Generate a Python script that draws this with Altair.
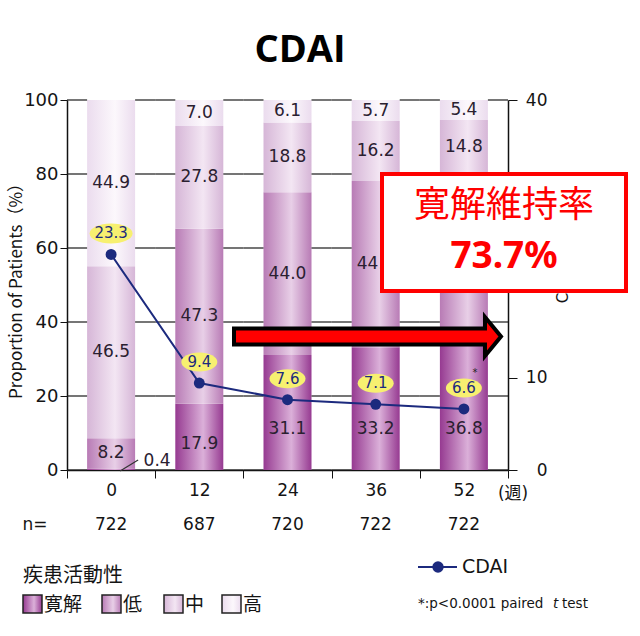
import altair as alt
import pandas as pd

# ---------------- data ----------------
weeks = ["0", "12", "24", "36", "52"]
categories = ["寛解", "低", "中", "高"]
remission = [0.4, 17.9, 31.1, 33.2, 36.8]
low = [8.2, 47.3, 44.0, 44.9, 43.0]
moderate = [46.5, 27.8, 18.8, 16.2, 14.8]
high = [44.9, 7.0, 6.1, 5.7, 5.4]
cdai = [23.3, 9.4, 7.6, 7.1, 6.6]
cdai_marks = ["", "", "", "", "*"]
n_values = [722, 687, 720, 722, 722]
y_ticks = [0, 20, 40, 60, 80, 100]
y2_ticks = [0, 10, 20, 30, 40]
Y2_MAX = 40  # right axis maximum (CDAI), left axis maximum is 100 %

series = [remission, low, moderate, high]
rows = []
for ci, (cat, vals) in enumerate(zip(categories, series)):
    for w, v in zip(weeks, vals):
        rows.append({"week": w, "cat": cat, "order": ci, "value": v})
bars_df = pd.DataFrame(rows)
cdai_df = pd.DataFrame({"week": weeks, "cdai": cdai, "mark": cdai_marks})
n_df = pd.DataFrame({"week": weeks, "n": [str(n) for n in n_values]})
grid_df = pd.DataFrame([{"gy": t, "week": w} for t in y_ticks for w in weeks])
one = pd.DataFrame({"a": [0]})
k = 100 / Y2_MAX

# ---------------- styles ----------------
NUM_FONT = "DejaVu Sans"
CJK_FONT = "Noto Sans CJK JP"
NAVY = "#1c2a7e"
TXT = "#141414"
PLOT_W = 441
BAR_W = 48
HALF_STEP = PLOT_W / len(weeks) / 2
gradient_colors = {
    "寛解": ("#963a91", "#dbb0d9"),
    "低": ("#b87bb5", "#e8cfe7"),
    "中": ("#d6b6d7", "#f3e6f3"),
    "高": ("#ebdcee", "#fcf8fc"),
}


def grad(cat):
    edge, mid = gradient_colors[cat]
    return alt.Gradient(
        gradient="linear", x1=0, x2=1, y1=0, y2=0,
        stops=[alt.GradientStop(color=edge, offset=0),
               alt.GradientStop(color=mid, offset=0.58),
               alt.GradientStop(color=edge, offset=1)])


xscale = alt.Scale(domain=weeks, paddingInner=0, paddingOuter=0)
yscale = alt.Scale(domain=[0, 100], nice=False, zero=False)

x_axis = alt.Axis(tickBand="extent", labelAngle=0, labelFont=NUM_FONT, labelFontSize=17,
                  labelColor=TXT, tickSize=8, tickColor="#111", domainColor="#111",
                  domainWidth=1.5, labelPadding=4, title=None, grid=False)
y_axis = alt.Axis(values=y_ticks, grid=False, tickSize=7, tickColor="#111",
                  domainColor="#111", domainWidth=1.5, labelPadding=2, labelFont=NUM_FONT,
                  labelFontSize=18, labelColor=TXT, title=None, orient="left")
y2_axis = alt.Axis(orient="right", values=[t * k for t in y2_ticks],
                   labelExpr=f"format(datum.value / {k}, 'd')", grid=False, tickSize=9,
                   tickColor="#111", domainColor="#111", domainWidth=1.5,
                   labelAlign="right", labelPadding=30, labelFont=NUM_FONT,
                   labelFontSize=17, labelColor=TXT, title=None)


def X(field="week:N"):
    return alt.X(field, sort=weeks, scale=xscale, axis=x_axis)


def Y(field, axis=None):
    return alt.Y(field, scale=yscale, axis=axis)


layers = []
base = alt.Chart(bars_df).transform_stack(
    stack="value", groupby=["week"], as_=["y0", "y1"],
    sort=[alt.SortField("order", order="ascending")])

for i, cat in enumerate(categories):
    layers.append(
        base.transform_filter(alt.datum.cat == cat)
        .mark_bar(size=BAR_W, color=grad(cat))
        .encode(x=X(), y=Y("y0:Q", y_axis if i == 0 else None), y2="y1:Q"))

# horizontal grid lines, drawn in the gaps between the bars (they sit behind the bars)
for o1, o2 in [(-HALF_STEP, -BAR_W / 2), (BAR_W / 2, HALF_STEP)]:
    layers.append(alt.Chart(grid_df).mark_rule(
        color="#1a1a1a", strokeWidth=1.2, xOffset=o1, x2Offset=o2).encode(
        x=X(), x2="week:N", y=Y("gy:Q"), y2="gy:Q"))

layers.append(
    base.transform_filter("!(datum.week == '0' && datum.cat == '寛解')")
    .transform_calculate(ly="datum.cat == '寛解' ? min(0.4 * datum.value, 11) : (datum.y0 + datum.y1) / 2")
    .mark_text(font=NUM_FONT, fontSize=17, color="#2a2030", baseline="middle")
    .encode(x=X(), y=Y("ly:Q"), text=alt.Text("value:Q", format=".1f")))

small = base.transform_filter("datum.week == '0' && datum.cat == '寛解'")
layers.append(small.mark_text(font=NUM_FONT, fontSize=17, color="#2a2030", baseline="middle",
                              dx=46, dy=-8).encode(
    x=X(), y=Y("value:Q"), text=alt.Text("value:Q", format=".1f")))
layers.append(small.mark_rule(color="#333", strokeWidth=1.2, xOffset=9, x2Offset=27,
                              yOffset=1, y2Offset=-10).encode(
    x=X(), x2="week:N", y=Y("y0:Q"), y2="y0:Q"))

# CDAI (right axis, mapped onto the 0-100 scale)
cbase = alt.Chart(cdai_df).transform_calculate(
    lbl="format(datum.cdai, '.1f')", cy=f"datum.cdai * {k}")
layers.append(cbase.mark_line(color=NAVY, strokeWidth=2).encode(
    x=X(), y=Y("cy:Q", y2_axis)))
layers.append(cbase.mark_circle(color=NAVY, size=120, opacity=1).encode(
    x=X(), y=Y("cy:Q")))
layers.append(cbase.transform_filter("length(datum.lbl) >= 4").mark_point(
    shape="M-1,0 A1,0.465 0 1,1 1,0 A1,0.465 0 1,1 -1,0 Z", size=43 * 43,
    filled=True, fill="#f7f070", strokeWidth=0, opacity=1, yOffset=-21).encode(
    x=X(), y=Y("cy:Q")))
layers.append(cbase.transform_filter("length(datum.lbl) < 4").mark_point(
    shape="M-1,0 A1,0.53 0 1,1 1,0 A1,0.53 0 1,1 -1,0 Z", size=36 * 36,
    filled=True, fill="#f7f070", strokeWidth=0, opacity=1, yOffset=-21).encode(
    x=X(), y=Y("cy:Q")))
layers.append(cbase.mark_text(font=NUM_FONT, fontSize=15, color=NAVY, baseline="middle",
                              dy=-21).encode(x=X(), y=Y("cy:Q"), text="lbl:N"))
layers.append(cbase.mark_text(font=NUM_FONT, fontSize=10, color="#222", baseline="middle",
                              dx=11, dy=-36).encode(x=X(), y=Y("cy:Q"), text="mark:N"))


# ---------------- annotations ----------------
def txt(text, x, y, size, font=NUM_FONT, color=TXT, align="left", baseline="alphabetic",
        weight="normal", angle=0, style="normal"):
    kw = dict(text=text, font=font, fontSize=size, color=color, align=align,
              baseline=baseline, fontWeight=weight, fontStyle=style)
    if angle:
        kw["angle"] = angle
    return alt.Chart(one).mark_text(**kw).encode(x=alt.value(x), y=alt.value(y))


layers += [
    txt("CDAI", 233, -38, 38, font="Open Sans", color="#000", align="center", weight="bold"),
    txt("Proportion of Patients（%）", -50, 187, 17, font=CJK_FONT,
        align="center", baseline="middle", angle=270),
    txt("CDAI", 496, 185, 15, align="center", baseline="middle", angle=270),
    txt("(週)", 446, 399, 17, font=NUM_FONT + ", " + CJK_FONT, align="center"),
    txt("n=", -32, 430, 17, align="center"),
    alt.Chart(n_df).mark_text(font=NUM_FONT, fontSize=17, color=TXT,
                              baseline="alphabetic").encode(
        x=X(), y=alt.value(430), text="n:N"),
    txt("疾患活動性", -44, 482, 20, font=CJK_FONT),
]
legend_x = [-44, 35, 97, 155]
for cat, lx in zip(categories, legend_x):
    layers.append(
        alt.Chart(one).mark_rect(color=grad(cat), stroke="#222", strokeWidth=1.5).encode(
            x=alt.value(lx), x2=alt.value(lx + 19), y=alt.value(495), y2=alt.value(513)))
    layers.append(txt(cat, lx + 21, 511, 19, font=CJK_FONT))

layers += [
    alt.Chart(one).mark_rule(color=NAVY, strokeWidth=2).encode(
        x=alt.value(351), x2=alt.value(390), y=alt.value(467)),
    alt.Chart(one).mark_circle(color=NAVY, size=130, opacity=1).encode(
        x=alt.value(371), y=alt.value(467)),
    txt("CDAI", 395, 473, 19),
    txt("*:p<0.0001 paired", 351, 508, 13.5),
    txt("t", 486, 508, 13.5, style="italic"),
    txt("test", 495, 508, 13.5),
    # arrow
    alt.Chart(one).mark_point(
        shape="M-1,-0.06 L0.88,-0.06 L0.88,-0.146 L1,0 L0.88,0.146 L0.88,0.06 L-1,0.06 Z",
        size=267 * 267, filled=True, fill="#ff0000", stroke="#000", strokeWidth=4,
        opacity=1).encode(x=alt.value(300.5), y=alt.value(236.5)),
    # box
    alt.Chart(one).mark_rect(fill="#ffffff", stroke="#ff0000", strokeWidth=4).encode(
        x=alt.value(315), x2=alt.value(559), y=alt.value(74), y2=alt.value(191)),
    txt("寛解維持率", 437, 117, 36, font=CJK_FONT, color="#ff0000", align="center"),
    txt("73.7%", 437, 168, 37, font="Noto Sans", color="#ff0000", align="center",
        weight="bold"),
]

chart = alt.layer(*layers).resolve_axis(y="independent").properties(
    width=PLOT_W, height=370,
    autosize=alt.AutoSizeParams(type="none"),
    padding={"left": 67, "top": 100, "right": 132, "bottom": 166},
).configure_view(stroke=None)

chart.save("out.html", embed_options={"renderer": "svg", "actions": False})
